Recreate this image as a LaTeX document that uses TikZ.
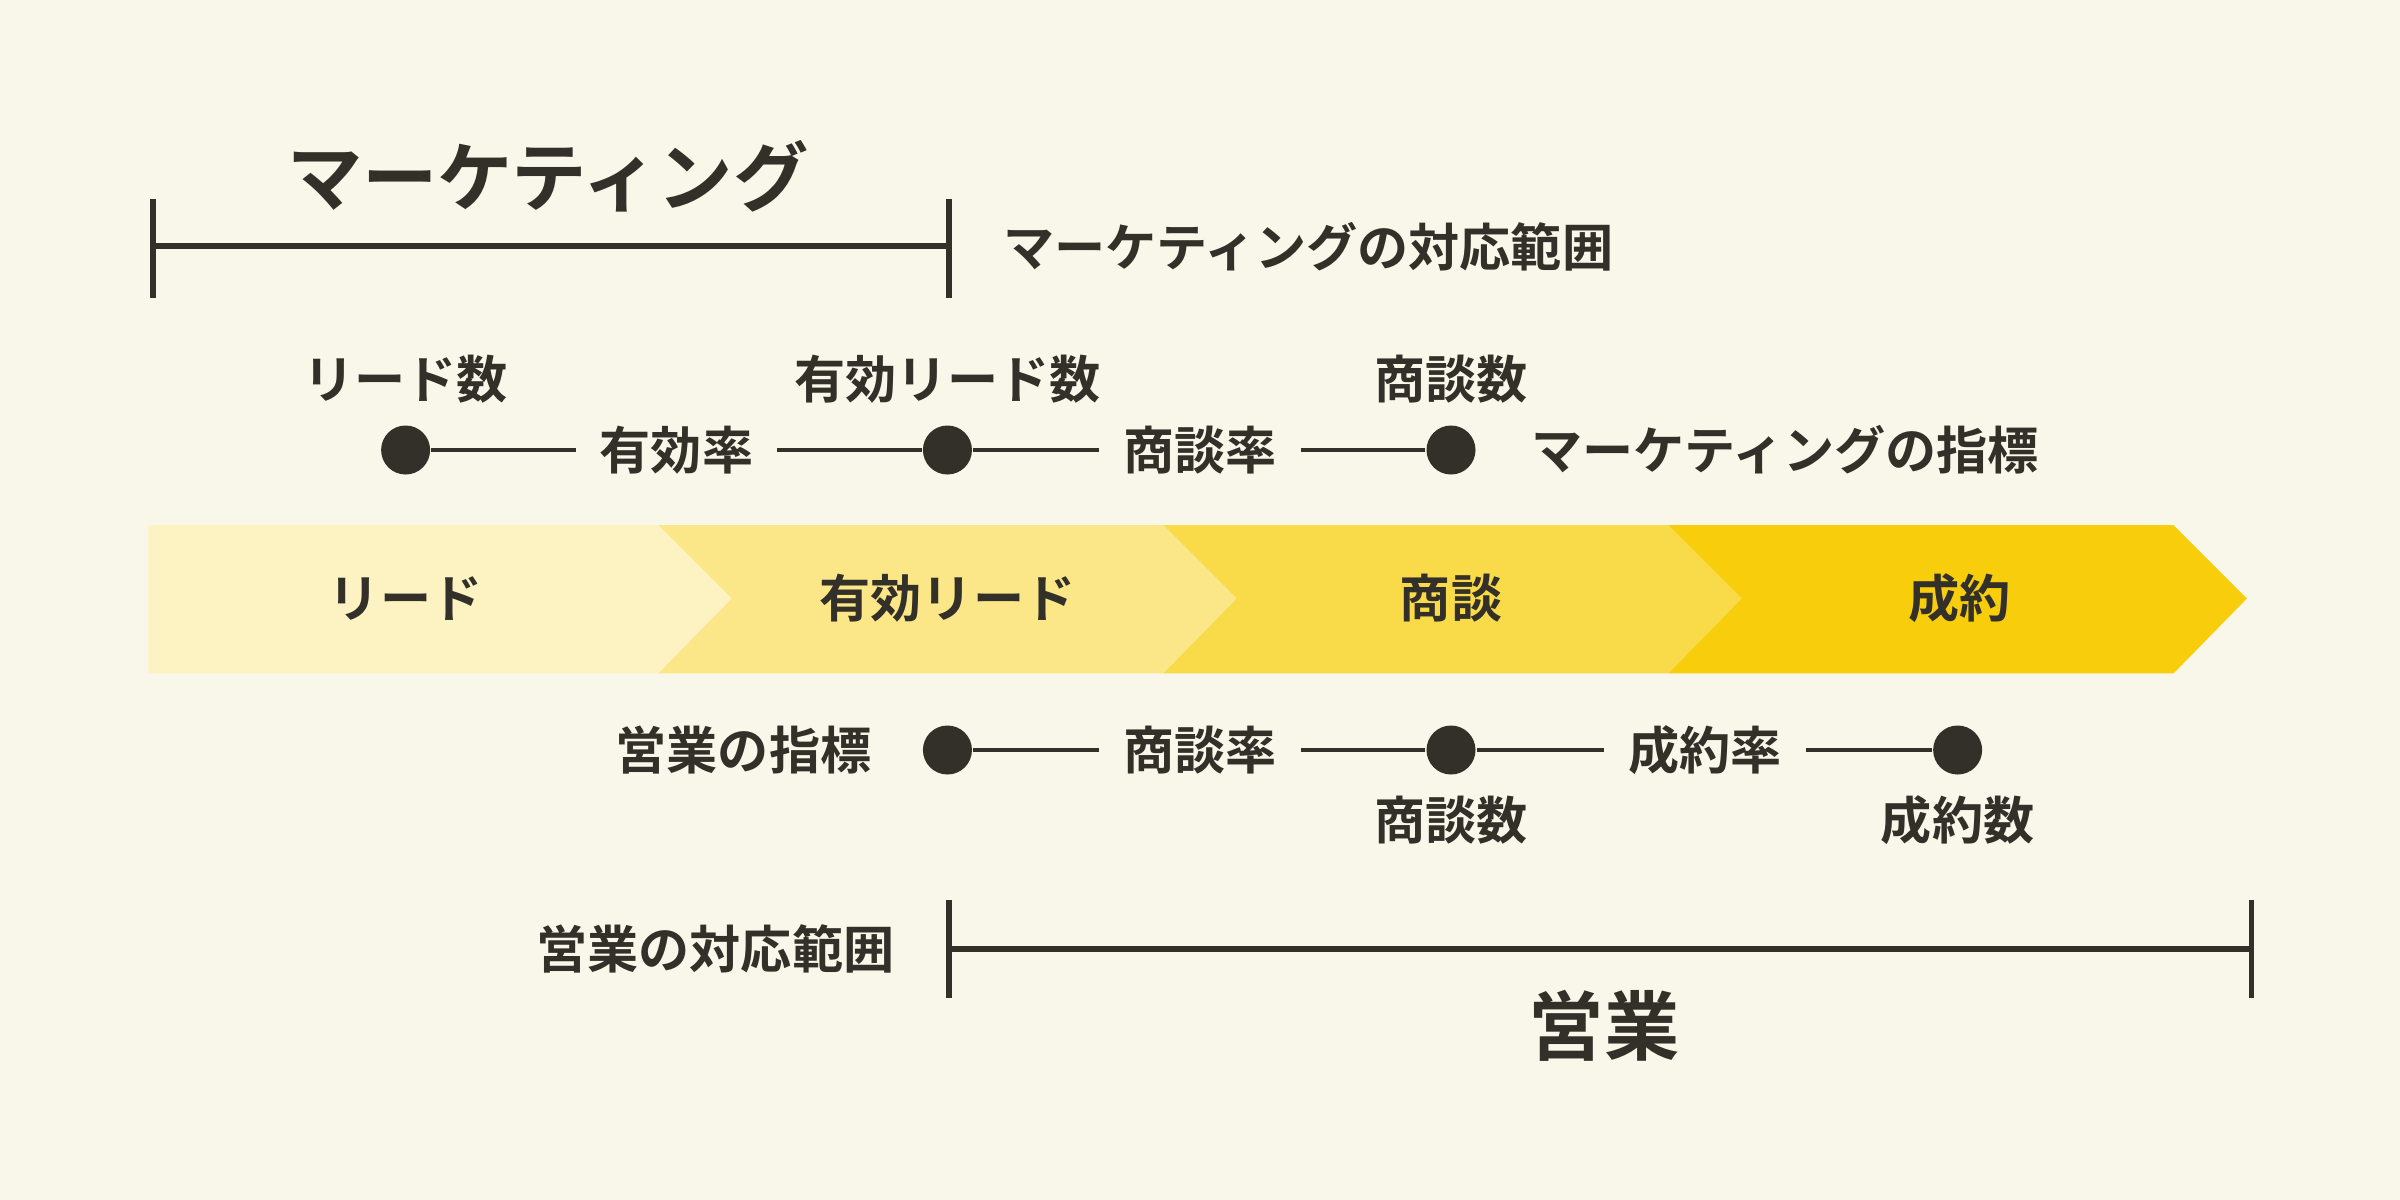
\documentclass[tikz,border=0pt]{standalone}
\usepackage{fontspec}
\setmainfont{Noto Sans CJK JP}[BoldFont={* Bold}]
\definecolor{bg}{HTML}{F9F6EA}
\definecolor{ink}{HTML}{33302A}
\definecolor{c1}{HTML}{FDF3C2}
\definecolor{c2}{HTML}{FBE788}
\definecolor{c3}{HTML}{F9DA48}
\definecolor{c4}{HTML}{F7CD0C}
\begin{document}
\begin{tikzpicture}[x=0.01cm,y=-0.01cm,
  lbl/.style={font=\fontsize{9.5}{11}\selectfont\bfseries, text=ink, inner sep=0pt},
  big/.style={font=\fontsize{14}{16}\selectfont\bfseries, text=ink, inner sep=0pt},
  dot/.style={circle, fill=ink, minimum size=0.32cm, inner sep=0pt},
  con/.style={draw=ink, line width=0.9pt, shorten >=0.15cm},
  brk/.style={draw=ink, line width=1.1pt}]
\fill[bg] (0,0) rectangle (1568,784);
\useasboundingbox (0,0) rectangle (1568,784);
% chevrons
\fill[c4] (1090,343) -- (1420,343) -- (1468,391) -- (1420,440) -- (1090,440) -- cycle;
\fill[c3] (760,343) -- (1090,343) -- (1138,391) -- (1090,440) -- (760,440) -- cycle;
\fill[c2] (430,343) -- (760,343) -- (808,391) -- (760,440) -- (430,440) -- cycle;
\fill[c1] (97,343) -- (430,343) -- (478,391) -- (430,440) -- (97,440) -- cycle;
\node[lbl] (s1) at (265,391) {リード};
\node[lbl] (s2) at (619,391) {有効リード};
\node[lbl] (s3) at (948,391) {商談};
\node[lbl] (s4) at (1280,391) {成約};
% marketing bracket
\node[big] (mk) at (358,115) {マーケティング};
\coordinate (ma) at (100,161); \coordinate (mb) at (620,161);
\draw[brk] (ma) -- (mb);
\draw[brk] (100,130) -- (100,195);
\draw[brk] (620,130) -- (620,195);
\node[lbl, anchor=west] (mr) at (655,161) {マーケティングの対応範囲};
% marketing metrics
\node[dot] (m1) at (265,294) {};
\node[dot] (m2) at (619,294) {};
\node[dot] (m3) at (948,294) {};
\node[lbl] (t1) at (265,248) {リード数};
\node[lbl] (t2) at (619,248) {有効リード数};
\node[lbl] (t3) at (948,248) {商談数};
\node[lbl] (r1) at (442,294) {有効率};
\node[lbl] (r2) at (784,294) {商談率};
\node[lbl, anchor=west] (mi) at (1000,294) {マーケティングの指標};
\draw[con] (m1) -- (r1.west);
\draw[con] (m2) -- (r1.east);
\draw[con] (m2) -- (r2.west);
\draw[con] (m3) -- (r2.east);
% sales metrics
\node[dot] (e1) at (619,490) {};
\node[dot] (e2) at (948,490) {};
\node[dot] (e3) at (1279,490) {};
\node[lbl, anchor=east] (ei) at (570,490) {営業の指標};
\node[lbl] (q1) at (784,490) {商談率};
\node[lbl] (q2) at (1114,490) {成約率};
\node[lbl] (b2) at (948,536) {商談数};
\node[lbl] (b3) at (1279,536) {成約数};
\draw[con] (e1) -- (q1.west);
\draw[con] (e2) -- (q1.east);
\draw[con] (e2) -- (q2.west);
\draw[con] (e3) -- (q2.east);
% sales bracket
\coordinate (sa) at (620,620); \coordinate (sb) at (1471,620);
\draw[brk] (sa) -- (sb);
\draw[brk] (620,588) -- (620,652);
\draw[brk] (1471,588) -- (1471,652);
\node[lbl, anchor=east] (sr) at (585,620) {営業の対応範囲};
\node[big] (sl) at (1048,670) {営業};
\end{tikzpicture}
\end{document}
